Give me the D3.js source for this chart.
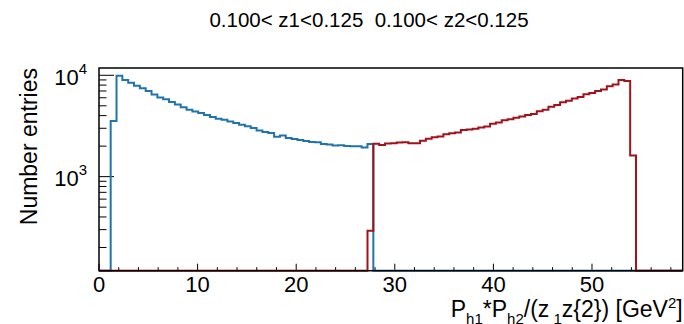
<!DOCTYPE html>
<html>
<head>
<meta charset="utf-8">
<script src="https://cdn.jsdelivr.net/npm/d3@7"></script>
<style>
  body { margin: 0; background: #fff; }
  text { font-family: "Liberation Sans", Arial, Helvetica, sans-serif; fill: #000; }
</style>
</head>
<body>
<div id="chart"></div>
<script>
// histogram settings and contents
const titleText = "0.100< z1<0.125  0.100< z2<0.125";
const nBins = 100;
const xRange = [0, 59.2];
const yRange = [118, 11800];
const xTickValues = [0, 10, 20, 30, 40, 50];
const yTickValues = [1000, 10000];

const blueFirstBin = 2;
const blueCounts = [
    3530, 9900, 9000, 8450, 7900, 7450, 7000, 6450, 6050, 5800,
    5450, 5150, 4850, 4580, 4400, 4250, 4050, 3880, 3720, 3650,
    3500, 3380, 3250, 3150, 3020, 2860, 2760, 2700, 2480, 2550,
    2400, 2350, 2300, 2250, 2200, 2180, 2100, 2080, 2030, 2040,
    2010, 2000, 1990, 1940, 2100
];

const redFirstBin = 46;
const redCounts = [
    293, 2110, 2050, 2120, 2130, 2170, 2190, 2140, 2130, 2260,
    2370, 2440, 2490, 2620, 2680, 2730, 2880, 2920, 2960, 3050,
    3120, 3330, 3420, 3600, 3680, 3820, 3920, 4050, 4150, 4420,
    4580, 4900, 5080, 5420, 5600, 5900, 6100, 6500, 6700, 7000,
    7250, 7800, 8100, 9000, 8800, 1620
];

function histogram(selector) {
    let width = 684;
    let height = 324;
    let frame = ({ left: 99, right: 682.7, top: 68, bottom: 270.7 });

    let x = d3.scaleLinear()
        .domain(xRange)
        .range([frame.left, frame.right]);

    let y = d3.scaleLog()
        .domain(yRange)
        .range([frame.bottom, frame.top]);

    let svg = d3.select(selector)
        .append("svg")
        .attr("width", width)
        .attr("height", height)
        .attr("viewBox", [0, 0, width, height]);

    // full bin arrays, empty bins stay at zero
    function bins(first, counts) {
        let a = new Array(nBins).fill(0);
        counts.forEach((c, i) => a[first + i] = c);
        return a;
    }
    let binWidth = (xRange[1] - xRange[0]) / nBins;
    function steps(a) {
        let pts = a.map((c, i) => [xRange[0] + i * binWidth, c]);
        pts.push([xRange[1], a[nBins - 1]]);
        return pts;
    }

    let line = d3.line()
        .curve(d3.curveStepAfter)
        .x(d => x(d[0]))
        .y(d => y(Math.max(d[1], yRange[0])));

    // x ticks: major every 10, minor every 2
    let xMinor = d3.range(0, xRange[1], 2).filter(v => v % 10 !== 0);
    svg.append("g")
        .attr("stroke", "black")
        .attr("stroke-width", 1)
        .selectAll("line")
        .data(xTickValues.map(v => [v, 7]).concat(xMinor.map(v => [v, 3.5])))
        .join("line")
        .attr("x1", d => x(d[0]))
        .attr("x2", d => x(d[0]))
        .attr("y1", frame.bottom)
        .attr("y2", d => frame.bottom - d[1]);

    // y ticks: decades and 2..9 minors
    let yMinor = [];
    [100, 1000].forEach(dec => d3.range(2, 10).forEach(k => {
        let v = k * dec;
        if (v > yRange[0] && v < yRange[1]) yMinor.push(v);
    }));
    svg.append("g")
        .attr("stroke", "black")
        .attr("stroke-width", 1)
        .selectAll("line")
        .data(yTickValues.map(v => [v, 15]).concat(yMinor.map(v => [v, 7.5])))
        .join("line")
        .attr("x1", frame.left)
        .attr("x2", d => frame.left + d[1])
        .attr("y1", d => y(d[0]))
        .attr("y2", d => y(d[0]));

    svg.append("path")
        .datum(steps(bins(blueFirstBin, blueCounts)))
        .attr("fill", "none")
        .attr("stroke", "#1f74ad")
        .attr("stroke-width", 2)
        .attr("d", line);

    svg.append("path")
        .datum(steps(bins(redFirstBin, redCounts)))
        .attr("fill", "none")
        .attr("stroke", "#a3121b")
        .attr("stroke-width", 2)
        .attr("d", line);

    // frame
    svg.append("rect")
        .attr("x", frame.left)
        .attr("y", frame.top)
        .attr("width", frame.right - frame.left)
        .attr("height", frame.bottom - frame.top)
        .attr("fill", "none")
        .attr("stroke", "black")
        .attr("stroke-width", 1.5);

    // x tick labels
    svg.append("g")
        .attr("font-size", 22)
        .attr("text-anchor", "middle")
        .selectAll("text")
        .data(xTickValues)
        .join("text")
        .attr("x", d => x(d))
        .attr("y", 292)
        .text(d => d);

    // y tick labels 10^n
    let yl = svg.append("g")
        .attr("font-size", 22)
        .attr("text-anchor", "end")
        .selectAll("text")
        .data(yTickValues)
        .join("text")
        .attr("x", frame.left - 12)
        .attr("y", d => y(d) + 9.5)
        .text("10");
    yl.append("tspan")
        .attr("font-size", 15)
        .attr("dy", -11)
        .text(d => Math.round(Math.log10(d)));

    // axis titles
    svg.append("text")
        .attr("transform", `translate(37,${frame.top}) rotate(-90)`)
        .attr("text-anchor", "end")
        .attr("font-size", 23)
        .text("Number entries");

    let parts = [
        ["P", 0], ["h1", 1], ["*P", 0], ["h2", 1], ["/(z", 0], [" 1", 1],
        ["z{2}) [GeV", 0], ["2", -1], ["]", 0]
    ];
    let xt = svg.append("text")
        .attr("x", frame.right)
        .attr("y", 317)
        .attr("text-anchor", "end")
        .attr("font-size", 23)
        .style("white-space", "pre");
    let level = 0;
    parts.forEach(p => {
        let shift = p[1] === 1 ? 7 : p[1] === -1 ? -9 : 0;
        xt.append("tspan")
            .attr("dy", shift - level)
            .attr("font-size", p[1] === 0 ? 23 : 15)
            .text(p[0]);
        level = shift;
    });

    // title
    svg.append("text")
        .attr("x", 369)
        .attr("y", 27)
        .attr("text-anchor", "middle")
        .attr("font-size", 20.5)
        .style("white-space", "pre")
        .text(titleText);

    return svg.node();
}

histogram("#chart");
</script>
</body>
</html>
